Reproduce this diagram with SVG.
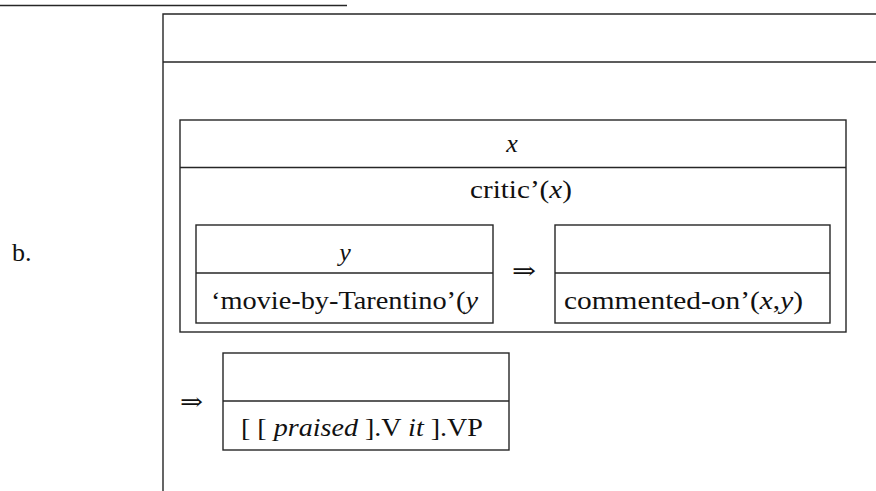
<svg xmlns="http://www.w3.org/2000/svg" width="876" height="491" viewBox="0 0 876 491">
  <style>
    .ln { stroke: #262626; stroke-width: 1.4; fill: none; }
    .box { fill: #ffffff; stroke: #262626; stroke-width: 1.4; }
    text { font-family: "Liberation Serif", "DejaVu Serif", serif; font-size: 26px; fill: #111111; }
    .it { font-style: italic; }
    .mid { text-anchor: middle; }
    .arrow { font-family: "DejaVu Serif", serif; font-size: 24px; }
  </style>
  <rect width="876" height="491" fill="#ffffff"/>

  <!-- footnote rule at the top of the page -->
  <line class="ln" x1="0" y1="5.5" x2="347" y2="5.5"/>

  <!-- example label -->
  <text x="12" y="261">b.</text>

  <!-- outer DRS: empty universe, open on the right and bottom -->
  <g id="outer-drs">
    <polyline class="ln" points="876,14 163,14 163,491"/>
    <line class="ln" x1="163" y1="62" x2="876" y2="62"/>
  </g>

  <!-- DRS introducing x -->
  <g id="drs-x">
    <rect class="box" x="180" y="120" width="666" height="212"/>
    <line class="ln" x1="180" y1="167.5" x2="846" y2="167.5"/>
    <text class="mid it" x="512" y="152">x</text>
    <text x="470" y="198" textLength="102" lengthAdjust="spacingAndGlyphs">critic’(<tspan class="it">x</tspan>)</text>
  </g>

  <!-- antecedent DRS introducing y -->
  <g id="drs-y">
    <rect class="box" x="196" y="225" width="297" height="98"/>
    <line class="ln" x1="196" y1="273" x2="493" y2="273"/>
    <text class="mid it" x="345" y="261">y</text>
    <text x="211" y="309" textLength="267" lengthAdjust="spacingAndGlyphs">‘movie-by-Tarentino’(<tspan class="it">y</tspan></text>
  </g>

  <!-- consequent DRS -->
  <g id="drs-commented">
    <rect class="box" x="555" y="225" width="275" height="98"/>
    <line class="ln" x1="555" y1="273" x2="830" y2="273"/>
    <text x="564" y="309" textLength="239" lengthAdjust="spacingAndGlyphs">commented-on’(<tspan class="it">x</tspan>,<tspan class="it">y</tspan>)</text>
  </g>

  <!-- DRS for the verb phrase -->
  <g id="drs-vp">
    <rect class="box" x="223" y="353" width="286" height="97"/>
    <line class="ln" x1="223" y1="401" x2="509" y2="401"/>
    <text x="241" y="436" textLength="242" lengthAdjust="spacingAndGlyphs">[ [ <tspan class="it">praised</tspan> ].V <tspan class="it">it</tspan> ].VP</text>
  </g>

  <!-- implication arrows -->
  <g id="connectors">
    <text class="arrow" x="512" y="279" textLength="24" lengthAdjust="spacingAndGlyphs">⇒</text>
    <text class="arrow" x="180" y="410" textLength="23" lengthAdjust="spacingAndGlyphs">⇒</text>
  </g>
</svg>
